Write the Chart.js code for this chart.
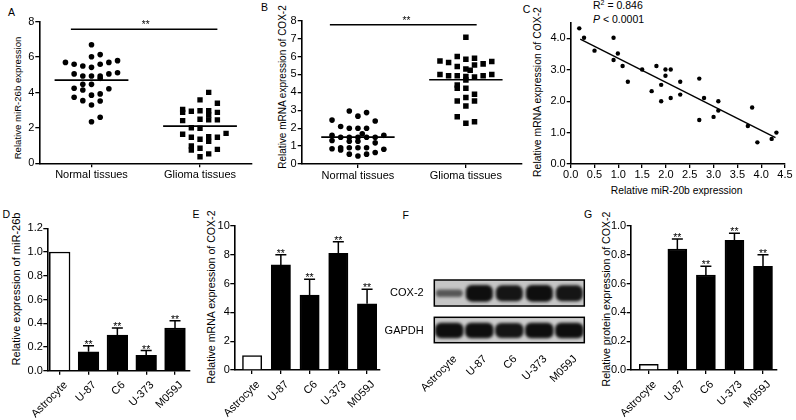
<!DOCTYPE html>
<html><head><meta charset="utf-8">
<script src="https://cdn.jsdelivr.net/npm/chart.js@4.4.1/dist/chart.umd.min.js"></script>
<style>
html,body{margin:0;padding:0;background:#fff;}
body{width:796px;height:420px;position:relative;overflow:hidden;font-family:"Liberation Sans",Arial,sans-serif;color:#000;}
canvas{position:absolute;}
.t{position:absolute;white-space:nowrap;line-height:1;color:#000;font-family:"Liberation Sans",Arial,sans-serif;}
.yt{position:absolute;white-space:nowrap;line-height:1;color:#000;transform:translate(-50%,-50%) rotate(-90deg);font-family:"Liberation Sans",Arial,sans-serif;}
</style></head><body>
<div class="t" style="left:8px;top:6.9px;font-size:10.5px">A</div>
<div class="t" style="left:260.9px;top:1.9px;font-size:10.5px">B</div>
<div class="t" style="left:522.8px;top:3.6px;font-size:10.5px">C</div>
<div class="t" style="left:2.5px;top:208.6px;font-size:10.5px">D</div>
<div class="t" style="left:192.5px;top:208.6px;font-size:10.5px">E</div>
<div class="t" style="left:402.5px;top:210.3px;font-size:10.5px">F</div>
<div class="t" style="left:584px;top:208.6px;font-size:10.5px">G</div>

<div class="yt" style="left:18.3px;top:97.5px;font-size:9.6px">Relative miR-26b expression</div>
<div class="yt" style="left:283.3px;top:87px;font-size:10px">Relative mRNA expression of COX-2</div>
<div class="yt" style="left:537.7px;top:91.7px;font-size:10.4px">Relative mRNA expression of COX-2</div>
<div class="yt" style="left:16px;top:289px;font-size:11px">Relative expression of miR-26b</div>
<div class="yt" style="left:211px;top:297px;font-size:10.6px">Relative mRNA expression of COX-2</div>
<div class="yt" style="left:606px;top:299px;font-size:10.6px">Relative protein expression of COX-2</div>
<div class="t" style="left:676.7px;top:186.3px;transform:translateX(-50%);font-size:10.3px">Relative miR-20b expression</div>
<div class="t" style="left:593px;top:0.4px;font-size:10.5px">R<sup style="font-size:7px;vertical-align:4px;line-height:0">2</sup> = 0.846</div>
<div class="t" style="left:593px;top:14.1px;font-size:10.5px"><i>P</i> &lt; 0.0001</div>

<script>
// ---------------- DATA ----------------
const tissueCategories = ['Normal tissues', 'Glioma tissues'];

// Panel A: miR-26b expression (values) and jitter column index
const mir26bNormal = [6.7, 6.02, 6.14, 5.7, 5.6, 5.5, 5.42, 5.6, 5.7, 5.8, 5.05, 4.93, 4.93, 4.93, 4.8, 5.05, 5.12, 4.46, 4.46, 4.24, 4.14, 4.21, 3.73, 3.54, 3.85, 3.92, 3.29, 3.52, 2.6, 2.35];
const mir26bNormalCol = [0, 0, 1, -3, -2, -1, 0, 1, 2, 3, -2, -1, 0, 1, 1, 2, 3, -1, 0, -2, -1, 2, -2, -1, 0, 1, 0, 1, 1, 0];
const mir26bGlioma = [4.01, 3.58, 3.39, 3.05, 2.88, 2.94, 2.97, 2.97, 2.73, 2.88, 2.41, 2.49, 2.45, 2.45, 2.01, 1.98, 1.64, 1.47, 1.36, 1.5, 1.24, 1.47, 1.69, 0.98, 0.75, 0.85, 0.79, 0.37, 0.53];
const mir26bGliomaCol = [1, 0, 2, -2, -2, -1, 0, 1, 1, 2, -2, 0, 1, 2, -1, 0, -2, -1, 0, 1, 1, 2, 3, -1, -1, 0, 2, 0, 1];
const mir26bMeans = [4.7, 2.1];

// Panel B: COX-2 mRNA in tissues
const cox2Normal = [2.96, 2.87, 2.67, 2.45, 2.4, 2.09, 2.0, 2.0, 2.0, 1.69, 1.6, 1.49, 1.49, 1.49, 1.49, 1.49, 1.6, 1.31, 1.27, 1.27, 1.18, 0.85, 0.91, 0.78, 0.91, 0.91, 0.91, 0.82, 0.55, 0.45, 0.55, 0.64];
const cox2NormalCol = [-1, 1, 0, -3, 2, -2, -1, 0, 1, 0.5, -3, -2, -1, 0, 1, 2, 3, -3, -1, 0, 2, -3, -2, -2, -1, 0, 1, 3, -1, 0, 1, 2];
const cox2Glioma = [7.08, 6.0, 5.75, 5.66, 5.85, 5.9, 5.59, 5.72, 5.44, 5.23, 5.53, 5.3, 5.0, 4.93, 4.93, 4.88, 4.86, 4.93, 5.0, 4.69, 4.41, 4.23, 4.23, 3.89, 3.52, 3.71, 3.52, 3.24, 2.64, 2.27, 2.36];
const cox2GliomaCol = [0, -1, -3, -2, 0, 1, 2, 3, -1, 0.5, 1, 0, -3, -2, -1, 0, 1, 2, 3, 0, -1, -1, 0, 1, -1, 0, 1, 0, -1, 0, 1];
const cox2Means = [1.5, 4.7];

// Panel C: correlation
const corrMir20b = [0.18, 0.28, 0.5, 0.9, 0.9, 0.99, 1.09, 1.2, 1.5, 1.7, 1.8, 1.9, 1.9, 1.99, 1.99, 2.1, 2.1, 2.3, 2.3, 2.7, 2.7, 2.8, 3.0, 3.1, 3.1, 3.72, 3.81, 3.92, 4.22, 4.32];
const corrCox2 = [4.32, 4.02, 3.61, 4.02, 3.31, 3.52, 3.12, 2.62, 3.01, 2.32, 3.12, 2.52, 2.0, 2.81, 3.01, 3.01, 2.1, 2.62, 2.21, 2.72, 1.4, 2.1, 1.5, 2.0, 1.7, 1.21, 1.8, 0.69, 0.8, 1.0];
const fitX = [0.2, 4.3];
const fitY = [3.98, 0.84];

// Panels D, E, F, G: cell lines
const cellLines = ['Astrocyte', 'U-87', 'C6', 'U-373', 'M059J'];
const mir26bCells = [1.0, 0.16, 0.30, 0.13, 0.36];
const mir26bCellsErr = [0, 0.05, 0.06, 0.04, 0.06];
const cox2mRNACells = [1.0, 7.3, 5.2, 8.1, 4.6];
const cox2mRNACellsErr = [0, 0.7, 1.1, 0.8, 1.0];
const cox2ProteinCells = [0.04, 0.84, 0.66, 0.90, 0.72];
const cox2ProteinCellsErr = [0, 0.07, 0.06, 0.05, 0.08];
const sigMarks = ['', '**', '**', '**', '**'];
const blotProteins = ['COX-2', 'GAPDH'];
const cox2BandLevel = [0.45, 1.0, 0.95, 1.0, 0.95];
const gapdhBandLevel = [1.0, 1.0, 0.96, 1.0, 1.0];

// ---------------- STYLE / HELPERS ----------------
Chart.defaults.font.family = '"Liberation Sans", Arial, sans-serif';
Chart.defaults.color = '#000';
const FONT = '"Liberation Sans", Arial, sans-serif';
const STEP = 0.08;   // jitter column spacing (category units)
const HALF = 0.34;   // half-length of mean lines
const gridOpt = {display: true, drawOnChartArea: false, drawTicks: true, tickLength: 4, color: '#000', lineWidth: 1.3};
const borderOpt = {display: true, color: '#000', width: 1.6};

function place(box, area, cfg) {
  const c = document.createElement('canvas');
  c.width = box[2]; c.height = box[3];
  c.style.left = box[0] + 'px'; c.style.top = box[1] + 'px';
  document.body.appendChild(c);
  const o = cfg.options;
  o.responsive = false; o.animation = false; o.devicePixelRatio = 1;
  o.layout = {padding: {left: 0, top: area[1] - box[1], right: box[0] + box[2] - area[2], bottom: 0}};
  const yw = area[0] - box[0], xh = box[1] + box[3] - area[3];
  o.scales.x.afterFit = s => { s.height = xh; };
  o.scales.y.afterFit = s => { s.width = yw; };
  o.plugins = Object.assign({legend: {display: false}, tooltip: {enabled: false}}, o.plugins || {});
  return new Chart(c, cfg);
}

const sigPlugin = {
  id: 'sig',
  afterDatasetsDraw(chart, args, o) {
    if (!o || o.y == null) return;
    const {ctx, scales: {x, y}} = chart;
    const py = y.getPixelForValue(o.y);
    ctx.save();
    ctx.strokeStyle = '#000'; ctx.lineWidth = 1.4;
    ctx.beginPath(); ctx.moveTo(x.getPixelForValue(o.x1), py); ctx.lineTo(x.getPixelForValue(o.x2), py); ctx.stroke();
    ctx.fillStyle = '#000'; ctx.font = '10px ' + FONT; ctx.textAlign = 'center'; ctx.textBaseline = 'alphabetic';
    ctx.fillText(o.text, x.getPixelForValue(o.xt), py - 1);
    ctx.restore();
  }
};

const errPlugin = {
  id: 'err',
  afterDatasetsDraw(chart, args, o) {
    if (!o || !o.values) return;
    const {ctx, scales: {x, y}} = chart;
    ctx.save();
    ctx.strokeStyle = '#000'; ctx.fillStyle = '#000'; ctx.lineWidth = 1.5;
    ctx.font = '10.5px ' + FONT; ctx.textAlign = 'center'; ctx.textBaseline = 'alphabetic';
    o.values.forEach((v, i) => {
      const e = o.errors[i];
      const px = x.getPixelForValue(i);
      const y1 = y.getPixelForValue(v + e);
      if (e > 0) {
        const y0 = y.getPixelForValue(v);
        ctx.beginPath();
        ctx.moveTo(px, y0); ctx.lineTo(px, y1);
        ctx.moveTo(px - o.cap, y1); ctx.lineTo(px + o.cap, y1);
        ctx.stroke();
      }
      if (o.marks[i]) ctx.fillText(o.marks[i], px, y1 + 2);
    });
    ctx.restore();
  }
};

function tissuePanel(box, area, opt) {
  const datasets = [];
  opt.groups.forEach((g, gi) => {
    datasets.push({
      type: 'scatter',
      data: g.vals.map((v, i) => ({x: gi + 1 + g.cols[i] * STEP, y: v})),
      pointStyle: g.style, pointRadius: g.r, pointHoverRadius: g.r,
      backgroundColor: '#000', borderWidth: 0
    });
  });
  opt.means.forEach((m, i) => datasets.push({
    type: 'line', data: [{x: i + 1 - HALF, y: m}, {x: i + 1 + HALF, y: m}],
    borderColor: '#000', borderWidth: 1.6, pointRadius: 0, showLine: true, fill: false
  }));
  return place(box, area, {
    type: 'scatter',
    data: {datasets},
    options: {
      scales: {
        x: {type: 'linear', min: opt.xMin, max: opt.xMax,
            afterBuildTicks: s => { s.ticks = tissueCategories.map((c, i) => ({value: i + 1})); },
            ticks: {callback: (v, i) => tissueCategories[i], autoSkip: false, maxRotation: 0, minRotation: 0, padding: 1, font: {size: 11}},
            grid: gridOpt, border: borderOpt},
        y: {min: opt.yMin, max: opt.yMax, ticks: {stepSize: opt.yStep, padding: 1, font: {size: 11}}, grid: gridOpt, border: borderOpt}
      },
      plugins: {sig: opt.sig}
    },
    plugins: [sigPlugin]
  });
}

function cellPanel(box, area, opt) {
  return place(box, area, {
    type: 'bar',
    data: {datasets: [{
      data: opt.values.map((v, i) => ({x: i, y: v})),
      backgroundColor: ['#fff', '#000', '#000', '#000', '#000'],
      borderColor: '#000', borderWidth: 1.5, barThickness: opt.bw, borderSkipped: 'bottom'
    }]},
    options: {
      scales: {
        x: {type: 'linear', offset: false, min: opt.xMin, max: opt.xMax,
            afterBuildTicks: s => { s.ticks = cellLines.map((c, i) => ({value: i})); },
            ticks: {callback: (v, i) => cellLines[i], autoSkip: false, minRotation: 45, maxRotation: 45, labelOffset: 6, padding: 4, font: {size: 11}},
            grid: Object.assign({}, gridOpt, {offset: false}), border: borderOpt},
        y: {min: 0, max: opt.yMax, ticks: {stepSize: opt.yStep, padding: 0.5, font: {size: 11}, callback: opt.fmt},
            grid: gridOpt, border: borderOpt}
      },
      plugins: {err: {values: opt.values, errors: opt.errors, marks: sigMarks, cap: 5.5}}
    },
    plugins: [errPlugin]
  });
}

// ---------------- PANELS ----------------
tissuePanel([0, 0, 260, 200], [39.3, 21.7, 252, 163.3], {
  groups: [{vals: mir26bNormal, cols: mir26bNormalCol, style: 'circle', r: 2.8},
           {vals: mir26bGlioma, cols: mir26bGliomaCol, style: 'rect', r: 3.8}],
  means: mir26bMeans, xMin: 0.519, xMax: 2.479, yMin: 0, yMax: 8, yStep: 2,
  sig: {x1: 0.81, x2: 2.16, y: 7.57, xt: 1.5, text: '**'}
});

tissuePanel([260, 0, 270, 200], [301.7, 20.7, 522, 164], {
  groups: [{vals: cox2Normal, cols: cox2NormalCol, style: 'circle', r: 2.8},
           {vals: cox2Glioma, cols: cox2GliomaCol, style: 'rect', r: 3.9}],
  means: cox2Means, xMin: 0.479, xMax: 2.52, yMin: 0, yMax: 8, yStep: 1,
  sig: {x1: 0.74, x2: 2.1, y: 7.77, xt: 1.45, text: '**'}
});

place([530, 0, 266, 200], [570.7, 22.7, 785, 164], {
  type: 'scatter',
  data: {datasets: [
    {type: 'scatter', data: corrMir20b.map((v, i) => ({x: v, y: corrCox2[i]})), pointRadius: 2.2, pointHoverRadius: 2.2, backgroundColor: '#000', borderWidth: 0},
    {type: 'line', data: fitX.map((v, i) => ({x: v, y: fitY[i]})), borderColor: '#000', borderWidth: 1.4, pointRadius: 0, showLine: true, fill: false}
  ]},
  options: {
    scales: {
      x: {type: 'linear', min: 0, max: 4.5, ticks: {stepSize: 0.5, padding: 0, font: {size: 11}, callback: v => v.toFixed(1), autoSkip: false, maxRotation: 0},
          grid: gridOpt, border: borderOpt},
      y: {min: 0, max: 4.5, ticks: {stepSize: 0.5, padding: 1, font: {size: 11}, callback: v => v.toFixed(1)}, grid: gridOpt, border: borderOpt}
    }
  }
});

cellPanel([0, 200, 195, 220], [47.3, 228.3, 190, 370.7], {
  values: mir26bCells, errors: mir26bCellsErr, bw: 20.7, xMin: -0.43, xMax: 4.52, yMax: 1.2, yStep: 0.2, fmt: v => v.toFixed(1)
});
cellPanel([195, 200, 195, 220], [234.3, 226, 380, 370], {
  values: cox2mRNACells, errors: cox2mRNACellsErr, bw: 19.3, xMin: -0.62, xMax: 4.45, yMax: 10, yStep: 2, fmt: v => String(v)
});
cellPanel([590, 200, 206, 220], [630.7, 226, 776.7, 370], {
  values: cox2ProteinCells, errors: cox2ProteinCellsErr, bw: 19, xMin: -0.634, xMax: 4.48, yMax: 1.0, yStep: 0.2, fmt: v => v.toFixed(1)
});

// Panel F: western blot drawn as blurred floating bars inside framed strips
const COX_ROW = 7.88, GAPDH_ROW = 1.95;           // row centres on the blot y scale
const blotBoxes = [[5.85, 10], [0, 4.05]];
const bandColor = l => 'rgba(14,14,14,' + (0.3 + 0.7 * l).toFixed(2) + ')';
const blotPlugin = {
  id: 'blot',
  beforeDatasetsDraw(chart, args, o) {
    const {ctx, chartArea: a, scales: {y}} = chart;
    ctx.save();
    o.boxes.forEach((b, i) => {
      const t = y.getPixelForValue(b[1]), btm = y.getPixelForValue(b[0]);
      ctx.fillStyle = o.bg[i];
      ctx.fillRect(a.left, t, a.right - a.left, btm - t);
    });
    ctx.restore();
    ctx.save();
    ctx.filter = 'blur(1.6px)';
  },
  afterDatasetsDraw(chart, args, o) {
    const {ctx, chartArea: a, scales: {y}} = chart;
    ctx.restore();
    ctx.save();
    ctx.strokeStyle = '#000'; ctx.lineWidth = 1.5;
    o.boxes.forEach(b => {
      const t = y.getPixelForValue(b[1]), btm = y.getPixelForValue(b[0]);
      ctx.strokeRect(a.left, t, a.right - a.left, btm - t);
    });
    ctx.restore();
  }
};
place([376, 200, 214, 220], [434.3, 280, 584.3, 342.7], {
  type: 'bar',
  data: {labels: cellLines, datasets: [
    {data: cox2BandLevel.map(l => [COX_ROW - 1.33 * l, COX_ROW + 1.33 * l]), backgroundColor: cox2BandLevel.map(bandColor),
     borderWidth: 0, borderRadius: 6, borderSkipped: false, barPercentage: 0.9, categoryPercentage: 1},
    {data: gapdhBandLevel.map(l => [GAPDH_ROW - 1.25 * l, GAPDH_ROW + 1.25 * l]), backgroundColor: gapdhBandLevel.map(bandColor),
     borderWidth: 0, borderRadius: 6, borderSkipped: false, barPercentage: 0.95, categoryPercentage: 1}
  ]},
  options: {
    grouped: false,
    scales: {
      x: {ticks: {autoSkip: false, minRotation: 45, maxRotation: 45, labelOffset: 6, padding: 2, font: {size: 11}},
          grid: {display: false}, border: {display: false}},
      y: {min: 0, max: 10,
          afterBuildTicks: s => { s.ticks = [{value: COX_ROW}, {value: GAPDH_ROW}]; },
          ticks: {callback: (v, i) => blotProteins[i], padding: 2.6, font: {size: 11}},
          grid: {display: false}, border: {display: false}}
    },
    plugins: {blot: {boxes: blotBoxes, bg: ['#c6c6c6', '#cdcdcd']}}
  },
  plugins: [blotPlugin]
});
</script>
</body></html>
